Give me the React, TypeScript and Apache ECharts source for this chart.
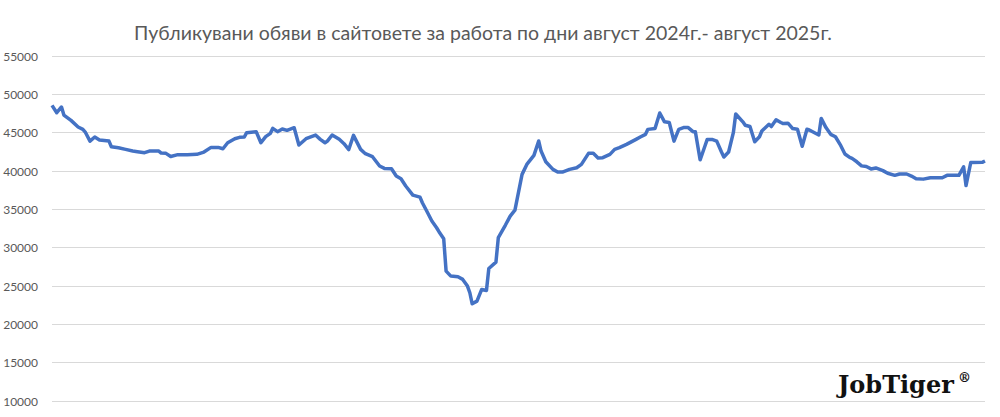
import React, { useEffect, useRef } from "react";
import * as echarts from "echarts";

const TITLE = "Публикувани обяви в сайтовете за работа по дни август 2024г.- август 2025г.";
const BRAND = "JobTiger";

// day offsets counted from 1 Aug 2024
const days = [
  0, 2, 4, 5, 8, 11, 13, 14, 16, 18, 20, 24, 25, 28, 31, 34, 36, 39, 41, 45,
  46, 48, 50, 53, 57, 61, 64, 67, 70, 72, 74, 77, 79, 81, 82, 86, 88, 90, 92, 93,
  95, 97, 99, 102, 104, 107, 111, 113, 115, 116, 118, 121, 123, 125, 127, 130, 132, 135, 138, 140,
  143, 145, 147, 149, 152, 155, 156, 158, 160, 162, 163, 165, 166, 168, 171, 173, 175, 176, 177, 179,
  181, 183, 184, 187, 188, 191, 193, 195, 198, 200, 203, 205, 206, 208, 211, 213, 215, 218, 221, 223,
  226, 228, 230, 232, 235, 237, 239, 242, 246, 248, 250, 251, 254, 256, 258, 260, 262, 264, 266, 268,
  270, 271, 273, 275, 276, 278, 280, 282, 283, 285, 287, 288, 291, 292, 294, 296, 298, 299, 302, 303,
  305, 307, 308, 310, 312, 314, 316, 318, 319, 323, 324, 326, 328, 330, 332, 334, 336, 337, 339, 341,
  343, 345, 347, 350, 352, 355, 357, 360, 362, 364, 367, 370, 375, 377, 382, 384, 385, 387, 392, 393,
];

// published job ads
const ads = [
  48560, 47600, 48350, 47300, 46600, 45740, 45430, 45080, 43900, 44430, 44040, 43900, 43170, 43040, 42820, 42600, 42520, 42390, 42600, 42600,
  42340, 42300, 41900, 42130, 42130, 42170, 42470, 43080, 43080, 42900, 43690, 44210, 44390, 44430, 45000, 45130, 43690, 44480, 44910, 45560,
  45130, 45480, 45300, 45650, 43390, 44210, 44690, 44130, 43690, 43900, 44690, 44130, 43560, 42800, 44650, 42820, 42256, 41865, 40650, 40340,
  40300, 39340, 38990, 38040, 36860, 36600, 35860, 34690, 33470, 32600, 32080, 31160, 26940, 26290, 26200, 25860, 24990, 24120, 22680, 23030,
  24550, 24420, 27290, 28120, 31300, 32950, 34120, 34900, 39560, 40860, 42040, 43910, 42600, 41210, 40210, 39860, 39860, 40210, 40430, 40860,
  42300, 42300, 41690, 41735, 42170, 42820, 43040, 43470, 44130, 44470, 44780, 45430, 45530, 47560, 46410, 46330, 43900, 45440, 45660, 45660,
  45130, 45130, 41460, 43230, 44120, 44120, 43900, 42480, 41820, 42480, 45000, 47430, 46410, 45970, 45800, 43810, 44470, 45220, 46100, 45800,
  46680, 46330, 46190, 46240, 45530, 45440, 43230, 45440, 45350, 44690, 46860, 45660, 44780, 44470, 43450, 42220, 41770, 41640, 41200, 40670,
  40580, 40270, 40400, 40050, 39700, 39430, 39610, 39610, 39340, 38990, 38940, 39120, 39120, 39430, 39430, 40540, 38100, 41110, 41150, 41300,
];

const Y_MIN = 10000;
const Y_MAX = 55000;
const Y_STEP = 5000;

export default function App() {
  const ref = useRef<HTMLDivElement>(null);
  useEffect(() => {
    if (!ref.current) return;
    const chart = echarts.init(ref.current, null, { renderer: "svg" });
    const data = days.map((d, i) => [d, ads[i]]);
    chart.setOption({
      animation: false,
      backgroundColor: "#ffffff",
      grid: { left: 52, right: 15, top: 56, bottom: 16, containLabel: false },
      xAxis: {
        type: "value",
        min: days[0],
        max: days[days.length - 1],
        show: false,
      },
      yAxis: {
        type: "value",
        min: Y_MIN,
        max: Y_MAX,
        interval: Y_STEP,
        axisLine: { show: false },
        axisTick: { show: false },
        axisLabel: {
          color: "#595959",
          fontSize: 12,
          fontFamily: "Lato, 'Open Sans', sans-serif",
          margin: 14,
          formatter: (v: number) => String(v),
        },
        splitLine: { show: true, lineStyle: { color: "#d9d9d9", width: 1 } },
      },
      series: [
        {
          type: "line",
          data,
          showSymbol: false,
          symbol: "none",
          lineStyle: { color: "#4472C4", width: 3.5, join: "round" },
        },
      ],
      graphic: [
        {
          type: "text",
          x: 483,
          y: 32,
          style: {
            text: TITLE,
            fill: "#595959",
            fontSize: 19.5,
            fontFamily: "Lato, 'Open Sans', sans-serif",
            textAlign: "center",
            textVerticalAlign: "middle",
          },
        },
        {
          type: "text",
          x: 838,
          y: 384,
          style: {
            text: BRAND,
            fill: "#111111",
            fontSize: 24,
            fontWeight: "bold",
            fontFamily: "'DejaVu Serif', serif",
            textAlign: "left",
            textVerticalAlign: "middle",
          },
        },
        {
          type: "text",
          x: 958,
          y: 377,
          style: {
            text: "®",
            fill: "#111111",
            fontSize: 13,
            fontWeight: "bold",
            fontFamily: "'DejaVu Serif', serif",
            textAlign: "left",
            textVerticalAlign: "middle",
          },
        },
      ],
    });
    return () => chart.dispose();
  }, []);
  return <div ref={ref} style={{ width: 1000, height: 417, position: "absolute", left: 0, top: 0 }} />;
}
